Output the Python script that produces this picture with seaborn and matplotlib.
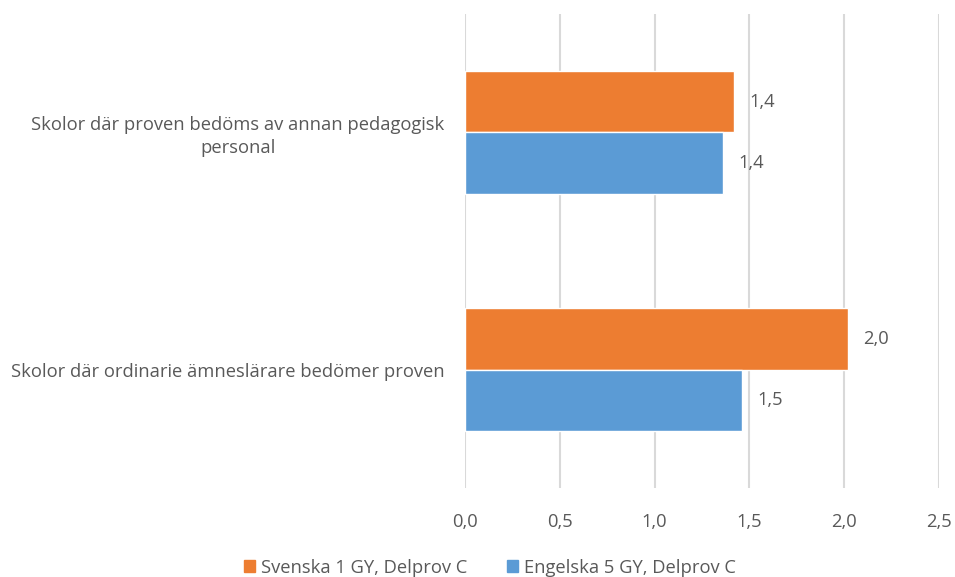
import pandas as pd
import numpy as np
import matplotlib.pyplot as plt
import seaborn as sns

# data
kategorier = [
    'Skolor där proven bedöms av annan pedagogisk\npersonal',
    'Skolor där ordinarie ämneslärare bedömer proven',
]
serier = ['Svenska 1 GY, Delprov C', 'Engelska 5 GY, Delprov C']
svenska = [1.42, 2.02]
engelska = [1.36, 1.46]
x_ticks = [0.0, 0.5, 1.0, 1.5, 2.0, 2.5]

farger = ['#ED7D31', '#5B9BD5']
textfarg = '#595959'
fs = 13.2

df = pd.DataFrame({
    'kategori': kategorier * 2,
    'serie': [serier[0]] * 2 + [serier[1]] * 2,
    'varde': svenska + engelska,
})

sns.set_theme(style='white')
plt.rcParams['font.family'] = ['Open Sans', 'DejaVu Sans']

fig = plt.figure(figsize=(9.55, 5.77), dpi=100)
ax = fig.add_axes([0.487, 0.154, 0.496, 0.822])

sns.barplot(data=df, y='kategori', x='varde', hue='serie', order=kategorier,
            hue_order=serier, palette=farger, width=0.52, orient='h',
            saturation=1, ax=ax, legend=False)

# värdeetiketter med decimalkomma
for container in ax.containers:
    etiketter = [f'{b.get_width():.1f}'.replace('.', ',') for b in container]
    ax.bar_label(container, labels=etiketter, padding=11, fontsize=fs, color=textfarg)

ax.set_xlim(0, 2.5)
ax.set_ylim(1.5, -0.5)
ax.set_xticks(x_ticks)
ax.set_xticklabels([f'{t:.1f}'.replace('.', ',') for t in x_ticks], fontsize=fs, color=textfarg)
ax.set_yticklabels(kategorier, fontsize=fs, color=textfarg, multialignment='center',
                   linespacing=1.3)
ax.tick_params(axis='both', length=0)
ax.tick_params(axis='x', pad=18)
ax.tick_params(axis='y', pad=15)
ax.set_xlabel('')
ax.set_ylabel('')
ax.grid(axis='x', color='#D9D9D9', linewidth=1.5)
ax.set_axisbelow(True)
for s in ax.spines.values():
    s.set_visible(False)

handles = [plt.Rectangle((0, 0), 1, 1, color=c) for c in farger]
leg = fig.legend(handles, serier, loc='lower center', bbox_to_anchor=(0.513, -0.028),
                 ncol=2, frameon=False, fontsize=fs, handlelength=0.6,
                 handleheight=0.6, handletextpad=0.3, columnspacing=2.2)
for t in leg.get_texts():
    t.set_color(textfarg)

fig.savefig('out.png', dpi=100)
